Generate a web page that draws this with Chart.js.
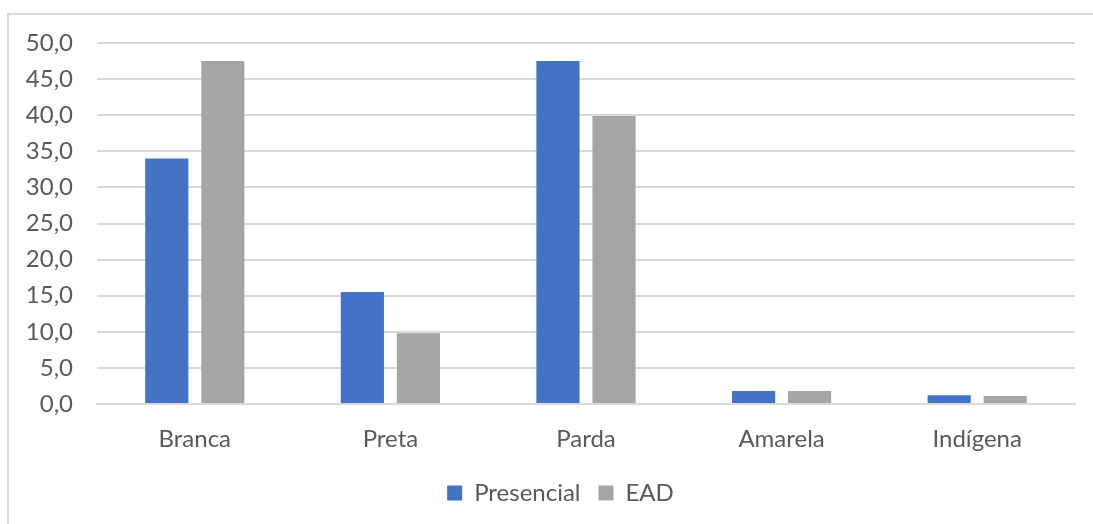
<!DOCTYPE html>
<html>
<head>
<meta charset="utf-8">
<script src="https://cdn.jsdelivr.net/npm/chart.js@4.4.0/dist/chart.umd.min.js"></script>
<style>
  html, body { margin: 0; padding: 0; background: #fff; }
  #frame {
    position: absolute; left: 7px; top: 13px; width: 1200px; height: 600px;
    border-left: 2px solid #d9d9d9; border-top: 2px solid #d9d9d9;
  }
  #wrap { position: absolute; left: 0; top: 0; width: 1093px; height: 524px; }
</style>
</head>
<body>
<div id="frame"></div>
<div id="wrap"><canvas id="corChart"></canvas></div>
<script>
const categorias = ["Branca", "Preta", "Parda", "Amarela", "Indígena"];
const presencial = [34.0, 15.5, 47.5, 1.8, 1.2];
const ead = [47.5, 9.8, 39.9, 1.8, 1.1];
const yTicks = [0, 5, 10, 15, 20, 25, 30, 35, 40, 45, 50];

const fonte = "Lato, 'Open Sans', sans-serif";
Chart.defaults.font.family = fonte;
Chart.defaults.color = "#595959";

// nudge the legend so it sits centred under the plot area, not the canvas
const legendShift = {
  id: "legendShift",
  afterLayout: function (chart) {
    const lg = chart.legend;
    if (lg) {
      lg.left += 23;
      lg.right += 23;
    }
  },
};

const ctx = document.querySelector("#corChart").getContext("2d");
const myChart = new Chart(ctx, {
  type: "bar",
  data: {
    labels: categorias,
    datasets: [
      {
        label: "Presencial",
        data: presencial,
        backgroundColor: "#4472C4",
        barPercentage: 0.77,
        categoryPercentage: 0.573,
      },
      {
        label: "EAD",
        data: ead,
        backgroundColor: "#A5A5A5",
        barPercentage: 0.77,
        categoryPercentage: 0.573,
      },
    ],
  },
  plugins: [legendShift],
  options: {
    responsive: true,
    maintainAspectRatio: false,
    animation: false,
    layout: { padding: { top: 43, right: 18, left: 0, bottom: 9 } },
    plugins: {
      tooltip: { enabled: false },
      legend: {
        position: "bottom",
        labels: {
          boxWidth: 15,
          boxHeight: 15,
          padding: 18,
          font: { size: 24 },
          color: "#595959",
        },
      },
    },
    scales: {
      x: {
        grid: { display: false, drawTicks: false },
        border: { display: true, color: "#d9d9d9", width: 2 },
        ticks: { padding: 21, font: { size: 24 } },
        afterFit: function (scale) { scale.height = 59; },
      },
      y: {
        min: 0,
        max: 50,
        afterBuildTicks: function (scale) {
          scale.ticks = yTicks.map(function (v) { return { value: v }; });
        },
        grid: { color: "#d9d9d9", lineWidth: 2, drawTicks: false },
        border: { display: false },
        ticks: {
          padding: 24,
          font: { size: 24 },
          callback: function (v) { return v.toFixed(1).replace(".", ","); },
        },
        afterFit: function (scale) { scale.width = 97; },
      },
    },
  },
});
</script>
</body>
</html>
